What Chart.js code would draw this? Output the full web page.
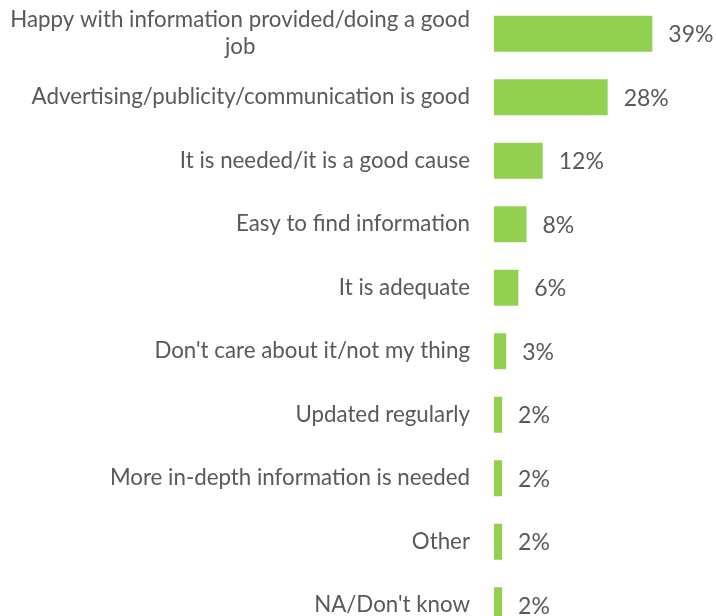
<!DOCTYPE html>
<html>
<head>
<meta charset="utf-8">
<script src="https://cdn.jsdelivr.net/npm/chart.js@4/dist/chart.umd.min.js"></script>
<style>
  html, body { margin: 0; padding: 0; background: #ffffff; overflow: hidden; }
  #wrap { position: relative; width: 716px; height: 616px; overflow: hidden; }
  #box { position: absolute; left: 0; top: 0; width: 716px; height: 640px; }
</style>
</head>
<body>
<div id="wrap"><div id="box"><canvas id="chart"></canvas></div></div>
<script>
// Survey answers, share of respondents (%)
const categories = [
  ["Happy with information provided/doing a good", "job"],
  "Advertising/publicity/communication is good",
  "It is needed/it is a good cause",
  "Easy to find information",
  "It is adequate",
  "Don't care about it/not my thing",
  "Updated regularly",
  "More in-depth information is needed",
  "Other",
  "NA/Don't know"
];
const shares = [39, 28, 12, 8, 6, 3, 2, 2, 2, 2];
const valueLabels = ["39%", "28%", "12%", "8%", "6%", "3%", "2%", "2%", "2%", "2%"];

const TEXT_COLOR = "#595959";
const FONT = "Lato, 'Open Sans', sans-serif";

// Category names drawn to the left of the plot, right-aligned;
// wrapped names have their lines centred on one another.
const categoryLabels = {
  id: "categoryLabels",
  afterDraw(chart) {
    const ctx = chart.ctx;
    const y = chart.scales.y;
    const right = chart.chartArea.left - 24;
    const lineH = 27;
    ctx.save();
    ctx.fillStyle = TEXT_COLOR;
    ctx.font = "22.3px " + FONT;
    ctx.textBaseline = "middle";
    categories.forEach((c, i) => {
      const cy = y.getPixelForValue(i);
      const lines = Array.isArray(c) ? c : [c];
      const widths = lines.map(l => ctx.measureText(l).width);
      const maxW = Math.max(...widths);
      const top = cy - (lines.length - 1) * lineH / 2;
      lines.forEach((l, k) => {
        ctx.textAlign = "center";
        ctx.fillText(l, right - maxW / 2, top + k * lineH);
      });
    });
    ctx.restore();
  }
};

// Percentage written just past the end of each bar
const valueTags = {
  id: "valueTags",
  afterDatasetsDraw(chart) {
    const ctx = chart.ctx;
    const meta = chart.getDatasetMeta(0);
    ctx.save();
    ctx.fillStyle = TEXT_COLOR;
    ctx.font = "23px " + FONT;
    ctx.textAlign = "left";
    ctx.textBaseline = "middle";
    meta.data.forEach((bar, i) => {
      ctx.fillText(valueLabels[i], bar.x + 16, bar.y + 1);
    });
    ctx.restore();
  }
};

new Chart(document.getElementById("chart"), {
  type: "bar",
  data: {
    labels: categories,
    datasets: [{
      data: shares,
      backgroundColor: "#92D050",
      borderWidth: 0,
      barPercentage: 0.567,
      categoryPercentage: 1
    }]
  },
  options: {
    indexAxis: "y",
    responsive: true,
    maintainAspectRatio: false,
    animation: false,
    layout: { padding: { left: 494, right: 19, top: 2, bottom: 3 } },
    scales: {
      x: { display: false, min: 0, max: 50 },
      y: { display: false }
    },
    plugins: {
      legend: { display: false },
      tooltip: { enabled: false }
    }
  },
  plugins: [categoryLabels, valueTags]
});
</script>
</body>
</html>
